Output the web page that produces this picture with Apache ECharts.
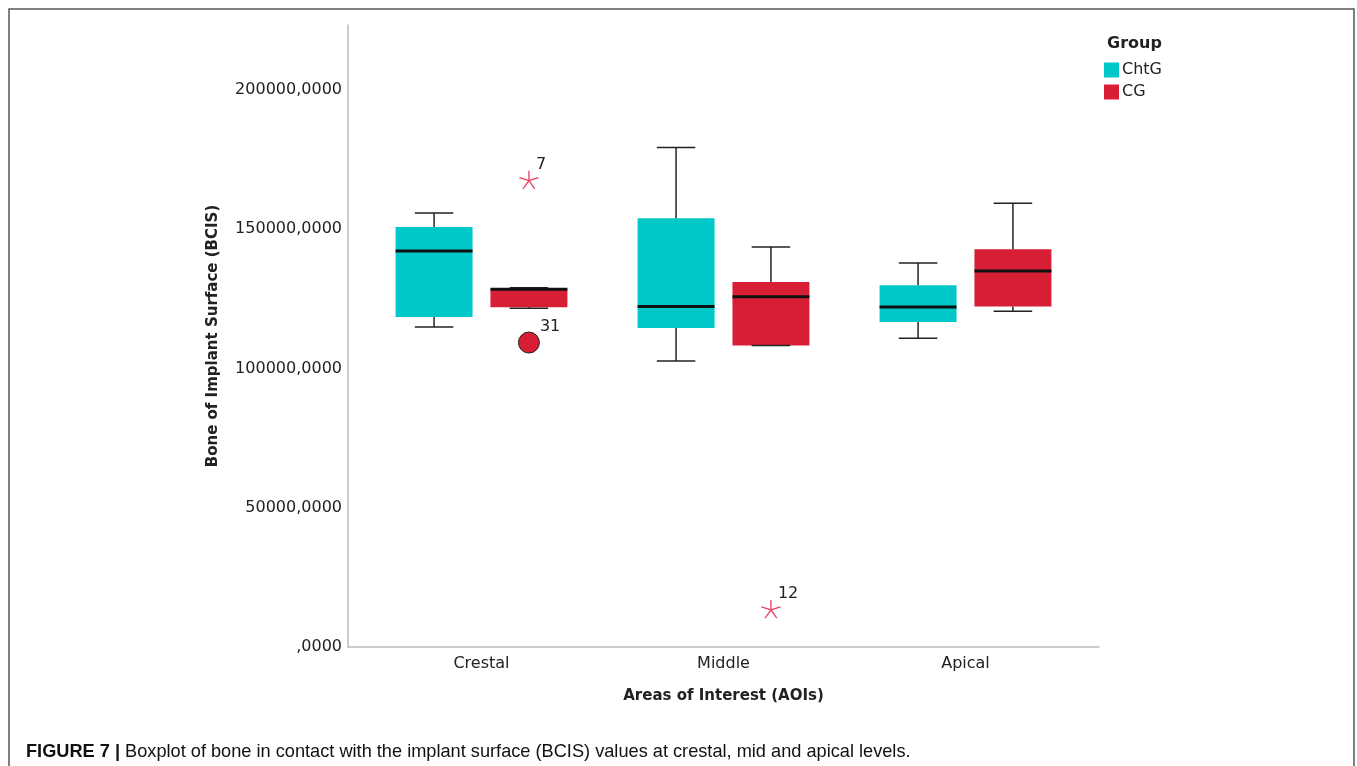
<!DOCTYPE html>
<html>
<head>
<meta charset="utf-8">
<script src="https://cdn.jsdelivr.net/npm/echarts@6/dist/echarts.min.js"></script>
<style>
html,body{margin:0;padding:0;background:#fff;}
#chart{width:1357px;height:766px;}
</style>
</head>
<body>
<div id="chart"></div>
<script>
// ---- data ----
const categories = ['Crestal', 'Middle', 'Apical'];
const groups = ['ChtG', 'CG'];
// [min, Q1, median, Q3, max] per category
const chtgBox = [
  [114900, 118500, 142200, 150800, 155800],
  [102700, 114500, 122200, 153900, 179300],
  [110800, 116700, 122100, 129900, 137900]
];
const cgBox = [
  [121600, 122000, 128400, 128400, 129000],
  [108200, 108200, 125700, 131000, 143600],
  [120500, 122200, 135000, 142800, 159300]
];
// CG outliers
const outlierCats = [0, 0, 1];
const outlierValues = [167400, 109300, 13300];
const outlierLabels = ['7', '31', '12'];
const outlierKinds = ['extreme', 'outlier', 'extreme'];
const yTicks = [0, 50000, 100000, 150000, 200000];
const yTickLabels = [',0000', '50000,0000', '100000,0000', '150000,0000', '200000,0000'];

const colors = {ChtG: '#00C8C8', CG: '#D81E34'};
const FONT = 'DejaVu Sans';

function boxData(arr) {
  return arr.map((b, i) => [i].concat(b));
}

function boxRender(sign, color) {
  return function (params, api) {
    const x = api.value(0);
    const bw = api.size([1, 0])[0];
    const off = sign * 0.196 * bw;
    const w = 0.318 * bw;
    const cx = api.coord([x, api.value(3)])[0] + off;
    const yMin = api.coord([x, api.value(1)])[1];
    const yQ1 = api.coord([x, api.value(2)])[1];
    const yMed = api.coord([x, api.value(3)])[1];
    const yQ3 = api.coord([x, api.value(4)])[1];
    const yMax = api.coord([x, api.value(5)])[1];
    const ls = {stroke: '#222', lineWidth: 1.5};
    return {
      type: 'group',
      children: [
        {type: 'rect', shape: {x: cx - w / 2, y: yQ3, width: w, height: yQ1 - yQ3}, style: {fill: color}},
        {type: 'line', shape: {x1: cx, y1: yMax, x2: cx, y2: yQ3}, style: ls},
        {type: 'line', shape: {x1: cx, y1: yQ1, x2: cx, y2: yMin}, style: ls},
        {type: 'line', shape: {x1: cx - w / 4, y1: yMax, x2: cx + w / 4, y2: yMax}, style: ls},
        {type: 'line', shape: {x1: cx - w / 4, y1: yMin, x2: cx + w / 4, y2: yMin}, style: ls},
        {type: 'line', shape: {x1: cx - w / 2, y1: yMed, x2: cx + w / 2, y2: yMed}, style: {stroke: '#111', lineWidth: 3}}
      ]
    };
  };
}

function outlierRender(params, api) {
  const idx = params.dataIndex;
  const x = api.value(0);
  const bw = api.size([1, 0])[0];
  const off = 0.196 * bw;
  const p = api.coord([x, api.value(1)]);
  const cx = p[0] + off, cy = p[1];
  const children = [];
  if (outlierKinds[idx] === 'extreme') {
    const r = 10;
    for (let k = 0; k < 5; k++) {
      const a = -Math.PI / 2 + k * 2 * Math.PI / 5;
      children.push({type: 'line', shape: {x1: cx, y1: cy, x2: cx + r * Math.cos(a), y2: cy + r * Math.sin(a)},
        style: {stroke: '#E8405E', lineWidth: 1.3}});
    }
    children.push({type: 'text', style: {text: outlierLabels[idx], x: cx + 7, y: cy - 8,
      textAlign: 'left', textVerticalAlign: 'bottom', font: '16px ' + FONT, fill: '#222'}});
  } else {
    children.push({type: 'circle', shape: {cx: cx, cy: cy, r: 10.5},
      style: {fill: colors.CG, stroke: '#222', lineWidth: 1}});
    children.push({type: 'text', style: {text: outlierLabels[idx], x: cx + 11, y: cy - 8,
      textAlign: 'left', textVerticalAlign: 'bottom', font: '16px ' + FONT, fill: '#222'}});
  }
  return {type: 'group', children: children};
}

const Y_MAX = 223300;
const chart = echarts.init(document.getElementById('chart'), null, {renderer: 'canvas'});
chart.setOption({
  backgroundColor: '#fff',
  animation: false,
  title: [
    {text: 'Group', left: 1102, top: 31, textStyle: {fontFamily: FONT, fontSize: 16, fontWeight: 'bold', color: '#222'}},
    {
      text: '{b|FIGURE 7 |} Boxplot of bone in contact with the implant surface (BCIS) values at crestal, mid and apical levels.',
      left: 26, top: 743, padding: 0,
      textStyle: {
        fontFamily: 'Liberation Sans', fontSize: 18.2, fontWeight: 'normal', color: '#111',
        rich: {b: {fontFamily: 'Liberation Sans', fontSize: 18.2, fontWeight: 'bold', color: '#111'}}
      }
    }
  ],
  legend: {
    data: groups,
    orient: 'vertical',
    left: 1099, top: 57,
    icon: 'rect',
    itemWidth: 15, itemHeight: 15, itemGap: 6,
    textStyle: {fontFamily: FONT, fontSize: 16, color: '#222', padding: [0, 0, 0, -2]},
    selectedMode: false
  },
  graphic: [
    {type: 'polyline', shape: {points: [[9, 766], [9, 9], [1354, 9], [1354, 766]]},
      style: {stroke: '#555', lineWidth: 1.5, fill: null}, silent: true}
  ],
  grid: [
    {left: 348, right: 258, top: 25, bottom: 119},
    {left: 360.5, width: 726, top: 25, bottom: 119}
  ],
  xAxis: [
    {gridIndex: 0, type: 'value', min: 0, max: 1, axisLine: {show: true, lineStyle: {color: '#bbb', width: 1.5}},
      axisTick: {show: false}, axisLabel: {show: false}, splitLine: {show: false}},
    {gridIndex: 1, type: 'category', data: categories, boundaryGap: true,
      axisLine: {show: false}, axisTick: {show: false},
      axisLabel: {fontFamily: FONT, fontSize: 16, color: '#222', margin: 9},
      name: 'Areas of Interest (AOIs)', nameLocation: 'middle', nameGap: 42,
      nameTextStyle: {fontFamily: FONT, fontSize: 15, fontWeight: 'bold', color: '#222'}}
  ],
  yAxis: [
    {gridIndex: 0, type: 'value', min: 0, max: Y_MAX, interval: 50000,
      axisLine: {show: true, lineStyle: {color: '#bbb', width: 1.5}},
      axisTick: {show: false}, splitLine: {show: false},
      axisLabel: {showMaxLabel: false, fontFamily: FONT, fontSize: 16, color: '#222', margin: 6,
        formatter: function (v) { const i = yTicks.indexOf(v); return i >= 0 ? yTickLabels[i] : ''; }},
      name: 'Bone of Implant Surface (BCIS)', nameLocation: 'middle', nameGap: 127,
      nameTextStyle: {fontFamily: FONT, fontSize: 15, fontWeight: 'bold', color: '#222'}},
    {gridIndex: 1, type: 'value', min: 0, max: Y_MAX, show: false}
  ],
  series: [
    {name: 'ChtG', type: 'custom', xAxisIndex: 1, yAxisIndex: 1, itemStyle: {color: colors.ChtG},
      encode: {x: 0, y: [1, 2, 3, 4, 5]}, data: boxData(chtgBox), renderItem: boxRender(-1, colors.ChtG)},
    {name: 'CG', type: 'custom', xAxisIndex: 1, yAxisIndex: 1, itemStyle: {color: colors.CG},
      encode: {x: 0, y: [1, 2, 3, 4, 5]}, data: boxData(cgBox), renderItem: boxRender(1, colors.CG)},
    {name: 'CG outliers', type: 'custom', xAxisIndex: 1, yAxisIndex: 1,
      encode: {x: 0, y: 1}, data: outlierCats.map((c, i) => [c, outlierValues[i]]), renderItem: outlierRender}
  ]
});
</script>
</body>
</html>
